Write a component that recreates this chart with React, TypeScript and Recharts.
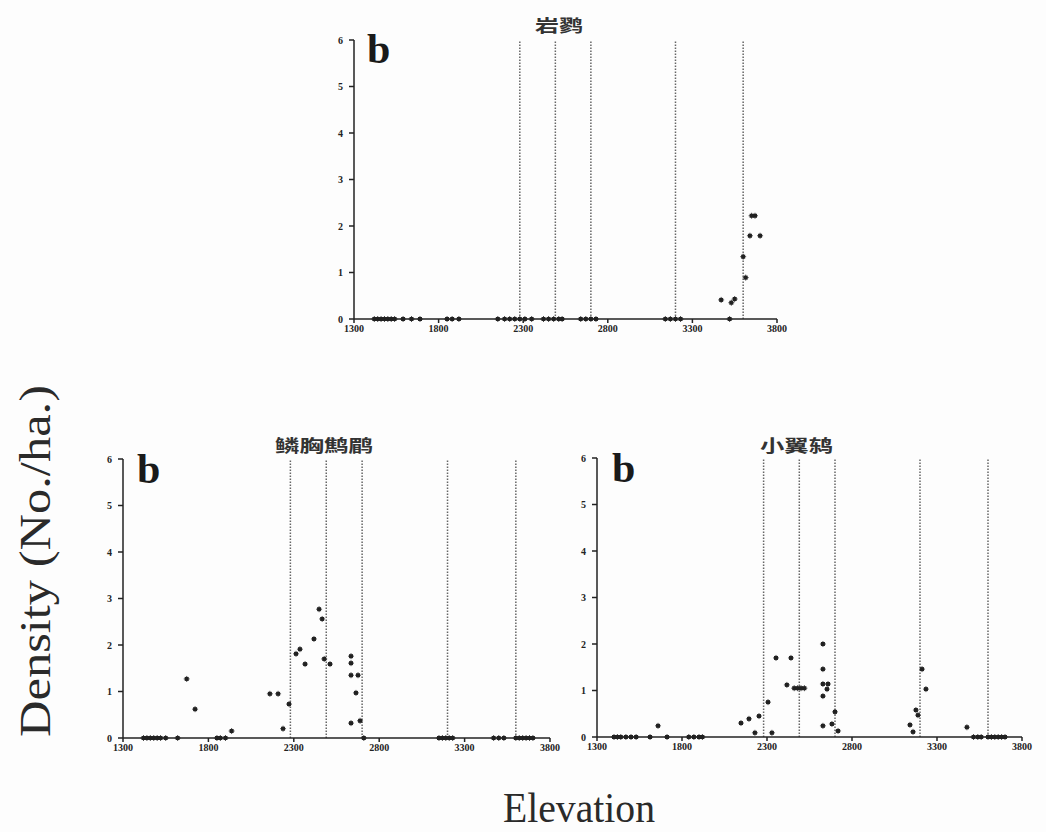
import React from "react";
import {
  ScatterChart,
  Scatter,
  XAxis,
  YAxis,
  ReferenceLine,
} from "recharts";

const elevationTicks = [1300, 1800, 2300, 2800, 3300, 3800];
const densityTicks = [0, 1, 2, 3, 4, 5, 6];
const zoneBoundaries = [2280, 2490, 2700, 3200, 3600];

// 岩鹨
const accentorElevation = [
  1420, 1440, 1460, 1480, 1500, 1520, 1540, 1590, 1640, 1690, 1850, 1880, 1920,
  2150, 2190, 2220, 2250, 2280, 2310, 2350, 2420, 2450, 2480, 2510, 2530, 2640,
  2670, 2700, 2730, 3140, 3170, 3200, 3230, 3520, 3470, 3530, 3550, 3600, 3615,
  3650, 3670, 3640, 3700,
];
const accentorDensity = [
  0, 0, 0, 0, 0, 0, 0, 0, 0, 0, 0, 0, 0, 0, 0, 0, 0, 0, 0, 0, 0, 0, 0, 0, 0, 0,
  0, 0, 0, 0, 0, 0, 0, 0, 0.41, 0.35, 0.43, 1.34, 0.89, 2.22, 2.22, 1.79, 1.79,
];

// 鳞胸鹪鹛
const wrenBabblerElevation = [
  1420, 1440, 1460, 1480, 1500, 1520, 1550, 1620, 1850, 1870, 1900, 2710, 3150,
  3170, 3190, 3210, 3230, 3470, 3500, 3530, 3600, 3620, 3640, 3660, 3680, 3700,
  1673, 1722, 1936, 2160, 2208, 2237, 2272, 2313, 2336, 2366, 2418, 2448, 2466,
  2478, 2512, 2635, 2635, 2635, 2676, 2664, 2635, 2688,
];
const wrenBabblerDensity = [
  0, 0, 0, 0, 0, 0, 0, 0, 0, 0, 0, 0, 0, 0, 0, 0, 0, 0, 0, 0, 0, 0, 0, 0, 0, 0,
  1.27, 0.62, 0.15, 0.95, 0.95, 0.2, 0.73, 1.81, 1.91, 1.59, 2.13, 2.77, 2.56,
  1.7, 1.59, 1.76, 1.61, 1.35, 1.35, 0.97, 0.32, 0.37,
];

// 小翼鸫
const shortwingElevation = [
  1400, 1420, 1440, 1470, 1500, 1530, 1612, 1712, 1840, 1870, 1900, 1920, 3515,
  3540, 3560, 3600, 3620, 3640, 3660, 3680, 3700, 1659, 2147, 2194, 2229, 2253,
  2306, 2329, 2353, 2441, 2417, 2460, 2480, 2500, 2520, 2629, 2629, 2629, 2659,
  2653, 2629, 2700, 2629, 2682, 2718, 3212, 3235, 3176, 3188, 3141, 3159, 3476,
];
const shortwingDensity = [
  0, 0, 0, 0, 0, 0, 0, 0, 0, 0, 0, 0, 0, 0, 0, 0, 0, 0, 0, 0, 0, 0.24, 0.3, 0.39,
  0.09, 0.45, 0.75, 0.09, 1.7, 1.7, 1.12, 1.05, 1.05, 1.05, 1.05, 2.0, 1.46,
  1.14, 1.14, 1.03, 0.88, 0.54, 0.24, 0.28, 0.13, 1.46, 1.03, 0.58, 0.47, 0.26,
  0.11, 0.21,
];

const toPoints = (xs: number[], ys: number[]) =>
  xs.map((e, i) => ({ elevation: e, density: ys[i] }));

const tickStyle = {
  fill: "#222",
  fontSize: 10,
  fontFamily: "Liberation Serif",
  fontWeight: "bold",
};

const Marker = (props: any) => {
  const { cx, cy } = props;
  return (
    <g>
      <rect x={cx - 2} y={cy - 2} width={4} height={4} fill="#222" />
      <line x1={cx - 3} x2={cx + 3} y1={cy} y2={cy} stroke="#222" strokeWidth={0.8} />
      <line x1={cx} x2={cx} y1={cy - 3} y2={cy + 3} stroke="#222" strokeWidth={0.8} />
    </g>
  );
};

function Panel({ data, width }: { data: any[]; width: number }) {
  return (
    <ScatterChart
      width={width}
      height={319}
      margin={{ top: 10, right: 20, bottom: 0, left: 0 }}
    >
      <XAxis
        type="number"
        dataKey="elevation"
        domain={[1300, 3800]}
        ticks={elevationTicks}
        interval={0}
        height={30}
        stroke="#222"
        strokeWidth={1.5}
        tickSize={4}
        tickMargin={2}
        tick={tickStyle}
      />
      <YAxis
        type="number"
        dataKey="density"
        domain={[0, 6]}
        ticks={densityTicks}
        interval={0}
        width={30}
        stroke="#222"
        strokeWidth={1.5}
        tickSize={5}
        tickMargin={6}
        tick={tickStyle}
      />
      {zoneBoundaries.map((b) => (
        <ReferenceLine
          key={b}
          x={b}
          stroke="#666"
          strokeWidth={1.5}
          strokeDasharray="1.5 1.5"
        />
      ))}
      <Scatter data={data} shape={<Marker />} isAnimationActive={false} />
    </ScatterChart>
  );
}

const bStyle: React.CSSProperties = {
  position: "absolute",
  fontFamily: "Liberation Serif",
  fontWeight: "bold",
  fontSize: 42,
  lineHeight: "42px",
  color: "#1a1a1a",
};

export default function App() {
  return (
    <div
      style={{
        position: "absolute",
        left: 0,
        top: 0,
        width: 1046,
        height: 832,
        background: "#fdfdfd",
        overflow: "hidden",
      }}
    >
      <div style={{ position: "absolute", left: 324, top: 30 }}>
        <Panel data={toPoints(accentorElevation, accentorDensity)} width={473} />
      </div>
      <div style={{ position: "absolute", left: 93, top: 449 }}>
        <Panel data={toPoints(wrenBabblerElevation, wrenBabblerDensity)} width={477} />
      </div>
      <div style={{ position: "absolute", left: 567, top: 448 }}>
        <Panel data={toPoints(shortwingElevation, shortwingDensity)} width={475} />
      </div>

      <div style={{ ...bStyle, left: 367, top: 28 }}>b</div>
      <div style={{ ...bStyle, left: 137, top: 448 }}>b</div>
      <div style={{ ...bStyle, left: 612, top: 447 }}>b</div>

      <svg
        width={1046}
        height={832}
        style={{ position: "absolute", left: 0, top: 0, pointerEvents: "none" }}
      >
        <g fontFamily="Noto Sans CJK SC" fontWeight="bold" fill="#333" fontSize={17}>
          <text x={535} y={32} textLength={48} lengthAdjust="spacingAndGlyphs">
            岩鹨
          </text>
          <text x={275} y={452} textLength={98} lengthAdjust="spacingAndGlyphs">
            鳞胸鹪鹛
          </text>
          <text x={760} y={452} textLength={73} lengthAdjust="spacingAndGlyphs">
            小翼鸫
          </text>
        </g>
        <text
          x={503}
          y={822}
          fontFamily="Liberation Serif"
          fontSize={42}
          fill="#2a2a2a"
          textLength={152}
          lengthAdjust="spacingAndGlyphs"
        >
          Elevation
        </text>
        <text
          transform="translate(50, 737) rotate(-90)"
          fontFamily="Liberation Serif"
          fontSize={44}
          fill="#2a2a2a"
          textLength={352}
          lengthAdjust="spacingAndGlyphs"
        >
          Density (No./ha.)
        </text>
      </svg>
    </div>
  );
}
